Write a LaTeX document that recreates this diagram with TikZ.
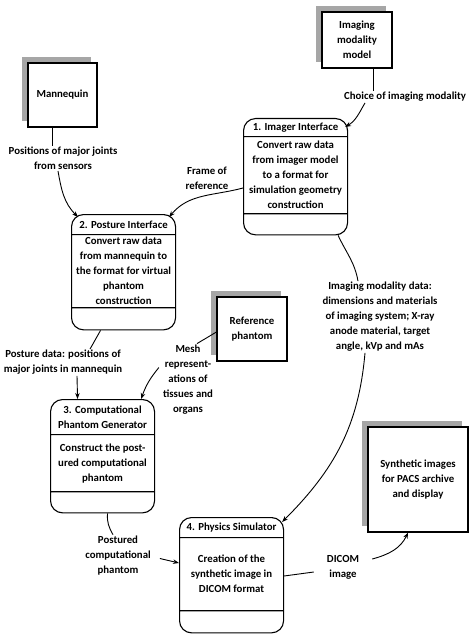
\documentclass[tikz,border=0pt]{standalone}
\usepackage{fontspec}
\setmainfont{Carlito}
\usetikzlibrary{shapes.multipart,shadows,arrows.meta}

% one fixed-height part of a process box
\newcommand{\cell}[2]{\parbox[c][#1][c]{104pt}{\centering #2}}

\tikzset{
  every node/.style={font=\bfseries\fontsize{10.8}{15}\selectfont},
  process/.style={draw, rectangle split, rectangle split parts=3,
    rounded corners=12pt, inner sep=0pt, line width=1.1pt},
  entity/.style={draw, fill=white, inner sep=0pt, line width=1.1pt, align=center,
    drop shadow={shadow xshift=-6pt, shadow yshift=6pt, fill=gray!70, opacity=1}},
  flow/.style={align=center, inner sep=1pt},
  arrow/.style={-{Stealth[length=6pt]}, line width=0.9pt}
}

\begin{document}
\begin{tikzpicture}[x=1pt,y=-1pt]
  \useasboundingbox (0,0) rectangle (474,636);

  % external entities
  \node[entity, minimum width=69pt, minimum height=64pt] (mann) at (62.5,95) {Mannequin};
  \node[entity, minimum width=70pt, minimum height=56pt] (imaging) at (357,40) {Imaging\\modality\\model};
  \node[entity, minimum width=70pt, minimum height=64pt] (refph) at (252,329) {Reference\\phantom};
  \node[entity, minimum width=100pt, minimum height=105pt] (synth) at (418,479.5) {Synthetic images\\for PACS archive\\and display};

  % processes
  \node[process, anchor=north west] (imager) at (243,118)
    {\cell{17pt}{1. Imager Interface}\nodepart{two}\cell{76pt}{Convert raw data\\from imager model\\to a format for\\simulation geometry\\construction}\nodepart{three}\cell{20pt}{}};
  \node[process, anchor=north west] (posture) at (71,214)
    {\cell{19pt}{2. Posture Interface}\nodepart{two}\cell{72pt}{Convert raw data\\from mannequin to\\the format for virtual\\phantom\\construction}\nodepart{three}\cell{21pt}{}};
  \node[process, anchor=north west] (comp) at (50,399)
    {\cell{34pt}{3. Computational\\Phantom Generator}\nodepart{two}\cell{56pt}{Construct the post-\\ured computational\\phantom}\nodepart{three}\cell{20pt}{}};
  \node[process, anchor=north west] (physics) at (179,517)
    {\cell{19pt}{4. Physics Simulator}\nodepart{two}\cell{72pt}{Creation of the\\synthetic image in\\DICOM format}\nodepart{three}\cell{21pt}{}};

  % data flow labels
  \node[flow] (posjoint) at (63,158.5) {Positions of major joints\\from sensors};
  \node[flow] (choice) at (405,97) {Choice of imaging modality};
  \node[flow] (frame) at (207,178) {Frame of\\reference};
  \node[flow] (postdata) at (63,362.5) {Posture data: positions of\\major joints in mannequin};
  \node[flow] (mesh) at (188,379.5) {Mesh\\represent-\\ations of\\tissues and\\organs};
  \node[flow] (postured) at (118,555.5) {Postured\\computational\\phantom};
  \node[flow] (imgdata) at (380,317) {Imaging modality data:\\dimensions and materials\\of imaging system; X-ray\\anode material, target\\angle, kVp and mAs};
  \node[flow] (dicom) at (343,567) {DICOM\\image};

  % data flows
  \draw[line width=0.9pt] ([xshift=-10.5pt]mann.south) -- ([xshift=-11pt]posjoint.north);
  \draw[arrow] ([xshift=-5pt]posjoint.south) to[out=-80,in=135] ([xshift=7pt,yshift=-3pt]posture.north west);

  \draw[line width=0.9pt] ([xshift=16pt]imaging.south) -- ([xshift=-32pt]choice.north);
  \draw[arrow] ([xshift=-40pt]choice.south) to[out=-120,in=30] ([xshift=-3pt,yshift=-9pt]imager.north east);

  \draw[arrow] ([yshift=-70pt]imager.north west) to[out=195,in=50] ([xshift=-7pt,yshift=-3pt]posture.north east);

  \draw[line width=0.9pt] ([xshift=-23pt]posture.south) -- ([xshift=27pt]postdata.north);
  \draw[arrow] ([xshift=14pt]postdata.south) -- ([xshift=-25pt]comp.north);

  \draw[line width=0.9pt] ([yshift=-3pt]refph.west) -- ([xshift=9pt]mesh.north);
  \draw[arrow] ([xshift=-3pt,yshift=12pt]mesh.west) to[bend right=10] ([xshift=-14pt]comp.north east);

  \draw[line width=0.9pt] ([xshift=5pt]comp.south) to[out=-95,in=120] ([xshift=-5pt]postured.north);
  \draw[arrow] ([xshift=8pt,yshift=-3pt]postured.east) -- ([yshift=-46pt]physics.north west);

  \draw[line width=0.9pt] ([xshift=-10pt]imager.south east) to[out=-65,in=100] ([xshift=-22pt]imgdata.north);
  \draw[arrow] ([xshift=-15pt]imgdata.south) to[out=-95,in=45] ([xshift=-2pt,yshift=-5pt]physics.north east);

  \draw[line width=0.9pt] ([yshift=-59pt]physics.north east) -- ([xshift=-12pt,yshift=-5pt]dicom.west);
  \draw[arrow] ([xshift=12pt,yshift=8pt]dicom.east) to[out=15,in=-115] ([xshift=-10pt]synth.south);
\end{tikzpicture}
\end{document}
